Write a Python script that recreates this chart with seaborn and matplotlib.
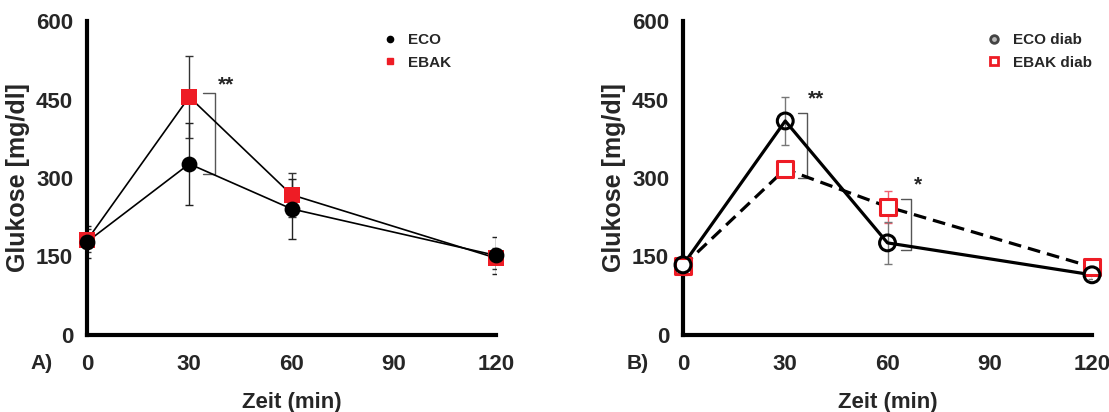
import numpy as np
import pandas as pd
import matplotlib
matplotlib.use("Agg")
import matplotlib.pyplot as plt
from matplotlib.lines import Line2D
import seaborn as sns

sns.set_style("white")
plt.rcParams["font.family"] = ["Liberation Sans", "DejaVu Sans"]
plt.rcParams["font.weight"] = "bold"

# --- data: mean glucose (mg/dl) and SD per time point ---
zeit = [0, 30, 60, 120]

eco_mean = [178, 327, 241, 152]
eco_sd = [30, 78, 57, 35]
ebak_mean = [181, 455, 268, 147]
ebak_sd = [22, 78, 42, 20]

eco_diab_mean = [134, 409, 176, 115]
eco_diab_sd = [12, 46, 40, 8]
ebak_diab_mean = [132, 317, 245, 130]
ebak_diab_sd = [18, 10, 31, 15]

x_ticks = [0, 30, 60, 90, 120]
y_ticks = [0, 150, 300, 450, 600]

# significance brackets: (x_left, x_right, y_top, y_bottom, label, label_x, label_y)
sig_a = [(34.0, 37.6, 462, 308, "**", 38.3, 478)]
sig_b = [(33.7, 36.4, 424, 300, "**", 36.6, 451),
         (64.0, 66.9, 260, 162, "*", 67.8, 287)]

RED = "#ee1c25"

fig = plt.figure(figsize=(11.09, 4.12), dpi=100)
ax_a = fig.add_axes([87 / 1109, 77 / 412, 409 / 1109, 314 / 412])
ax_b = fig.add_axes([683 / 1109, 77 / 412, 409 / 1109, 314 / 412])


def style_axes(ax, panel):
    ax.set_xlim(0, 120)
    ax.set_ylim(0, 600)
    ax.set_xticks(x_ticks)
    ax.set_yticks(y_ticks)
    for s in ["top", "right"]:
        ax.spines[s].set_visible(False)
    for s in ["left", "bottom"]:
        ax.spines[s].set_linewidth(3.0)
        ax.spines[s].set_color("black")
    ax.tick_params(axis="both", direction="out", length=7, width=3,
                   color="black", labelsize=16)
    ax.tick_params(axis="x", pad=7)
    ax.tick_params(axis="y", pad=3)
    for lab in ax.get_xticklabels() + ax.get_yticklabels():
        lab.set_fontweight("bold")
    ax.set_xlabel("Zeit (min)", fontsize=16, fontweight="bold", labelpad=12)
    ax.set_ylabel("Glukose [mg/dl]", fontsize=18, fontweight="bold", labelpad=4)
    ax.text(-0.11, -0.09, panel, transform=ax.transAxes, fontsize=15,
            fontweight="bold", ha="center", va="center")
    ax.grid(False)


def brackets(ax, items):
    for xl, xr, yt, yb, lab, lx, ly in items:
        ax.plot([xl, xr, xr, xl], [yt, yt, yb, yb], color="#555555", lw=1.0,
                zorder=2)
        ax.text(lx, ly, lab, fontsize=15, fontweight="bold", ha="left",
                va="center")


# ---------- panel A ----------
df_a = pd.DataFrame({
    "Zeit": zeit * 2,
    "Glukose": eco_mean + ebak_mean,
    "Gruppe": ["ECO"] * 4 + ["EBAK"] * 4,
})
for grp in ["EBAK", "ECO"]:
    sub = df_a[df_a["Gruppe"] == grp]
    sns.lineplot(data=sub, x="Zeit", y="Glukose", ax=ax_a, color="black",
                 lw=1.2, zorder=3, legend=False)
ax_a.errorbar(zeit, ebak_mean, yerr=ebak_sd, fmt="none", ecolor="#333333",
              elinewidth=1.0, capsize=3, capthick=1.0, zorder=2)
ax_a.errorbar(zeit, eco_mean, yerr=eco_sd, fmt="none", ecolor="#222222",
              elinewidth=1.0, capsize=3, capthick=1.0, zorder=2)
sns.scatterplot(data=df_a[df_a["Gruppe"] == "EBAK"], x="Zeit", y="Glukose",
                ax=ax_a, marker="s", color=RED, s=120, edgecolor=RED,
                linewidth=0, zorder=4, clip_on=False, legend=False)
sns.scatterplot(data=df_a[df_a["Gruppe"] == "ECO"], x="Zeit", y="Glukose",
                ax=ax_a, marker="o", color="black", s=130, edgecolor="black",
                linewidth=0, zorder=5, clip_on=False, legend=False)
brackets(ax_a, sig_a)
style_axes(ax_a, "A)")
h_a = [Line2D([], [], ls="none", marker="o", color="black", ms=4.5),
       Line2D([], [], ls="none", marker="s", color=RED, ms=5)]
ax_a.legend(h_a, ["ECO", "EBAK"], loc="upper left",
            bbox_to_anchor=(0.685, 1.005), frameon=False,
            handletextpad=0.6, labelspacing=0.55, handlelength=1.2,
            prop={"weight": "bold", "size": 11})

# ---------- panel B ----------
df_b = pd.DataFrame({
    "Zeit": zeit * 2,
    "Glukose": eco_diab_mean + ebak_diab_mean,
    "Gruppe": ["ECO diab"] * 4 + ["EBAK diab"] * 4,
})
sns.lineplot(data=df_b[df_b["Gruppe"] == "EBAK diab"], x="Zeit", y="Glukose",
             ax=ax_b, color="black", lw=2.3, dashes=(4, 2.2), zorder=3,
             legend=False)
sns.lineplot(data=df_b[df_b["Gruppe"] == "ECO diab"], x="Zeit", y="Glukose",
             ax=ax_b, color="black", lw=2.3, zorder=3, legend=False)
ax_b.errorbar(zeit, ebak_diab_mean, yerr=ebak_diab_sd, fmt="none",
              ecolor="#f06070", elinewidth=1.0, capsize=3, capthick=1.0,
              zorder=2)
ax_b.errorbar(zeit, eco_diab_mean, yerr=eco_diab_sd, fmt="none",
              ecolor="#777777", elinewidth=1.0, capsize=3, capthick=1.0,
              zorder=2)
sns.scatterplot(data=df_b[df_b["Gruppe"] == "EBAK diab"], x="Zeit",
                y="Glukose", ax=ax_b, marker="s", facecolor="white",
                edgecolor=RED, s=120, linewidth=2.2, zorder=4, clip_on=False,
                legend=False)
sns.scatterplot(data=df_b[df_b["Gruppe"] == "ECO diab"], x="Zeit",
                y="Glukose", ax=ax_b, marker="o", facecolor="none",
                edgecolor="black", s=130, linewidth=2.2, zorder=5,
                clip_on=False, legend=False)
brackets(ax_b, sig_b)
style_axes(ax_b, "B)")
h_b = [Line2D([], [], ls="none", marker="o", mfc="#bbbbbb", mec="#444444",
              mew=2, ms=5.5),
       Line2D([], [], ls="none", marker="s", mfc="white", mec=RED, mew=2,
              ms=5.5)]
ax_b.legend(h_b, ["ECO diab", "EBAK diab"], loc="upper left",
            bbox_to_anchor=(0.705, 1.005), frameon=False,
            handletextpad=0.6, labelspacing=0.55, handlelength=1.2,
            prop={"weight": "bold", "size": 11})

fig.savefig("out.png", dpi=100)
